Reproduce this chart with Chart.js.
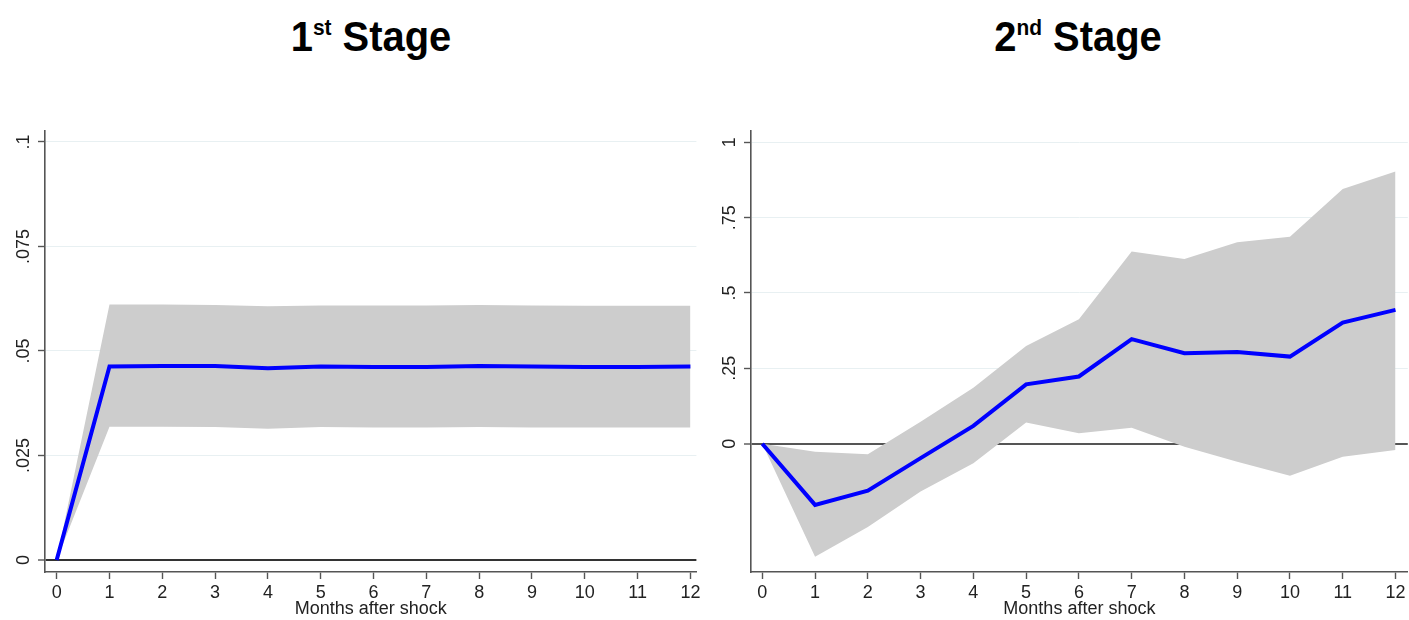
<!DOCTYPE html>
<html>
<head>
<meta charset="utf-8">
<script src="https://cdn.jsdelivr.net/npm/chart.js@4/dist/chart.umd.min.js"></script>
<style>
  html, body { margin: 0; padding: 0; background: #fff; }
  body { width: 1409px; height: 620px; position: relative; overflow: hidden;
         font-family: "Liberation Sans", Arial, sans-serif; }
  .stage-title { position: absolute; top: 16px; width: 400px; text-align: center;
                 font-weight: bold; font-size: 42px; line-height: 41px; color: #000;
                 transform: scaleX(0.95); transform-origin: center; white-space: nowrap; }
  .stage-title .ord { font-size: 22px; position: relative; top: -16px; }
  canvas { position: absolute; top: 0; }
</style>
</head>
<body>
<div class="stage-title" style="left:171px">1<span class="ord">st</span> Stage</div>
<div class="stage-title" style="left:878px">2<span class="ord">nd</span> Stage</div>
<canvas id="stage1" width="704" height="620" style="left:0"></canvas>
<canvas id="stage2" width="704" height="620" style="left:705px"></canvas>

<script>
// Horizon in months after the shock
const months = [0, 1, 2, 3, 4, 5, 6, 7, 8, 9, 10, 11, 12];
const xAxisTitle = 'Months after shock';

// First stage: impulse response with confidence band
const stage1Irf   = [0, 0.0463, 0.0464, 0.0464, 0.0459, 0.0463, 0.0462, 0.0462, 0.0464, 0.0463, 0.0462, 0.0462, 0.0463];
const stage1Upper = [0, 0.0611, 0.0611, 0.0610, 0.0607, 0.0609, 0.0609, 0.0609, 0.0610, 0.0609, 0.0608, 0.0608, 0.0608];
const stage1Lower = [0, 0.0319, 0.0319, 0.0318, 0.0314, 0.0318, 0.0317, 0.0317, 0.0318, 0.0317, 0.0317, 0.0317, 0.0317];
const stage1YTicks  = [0, 0.025, 0.05, 0.075, 0.1];
const stage1YLabels = ['0', '.025', '.05', '.075', '.1'];

// Second stage: impulse response with confidence band
const stage2Irf   = [0, -0.203, -0.156, -0.048, 0.059, 0.197, 0.223, 0.347, 0.300, 0.304, 0.289, 0.402, 0.444];
const stage2Upper = [0, -0.027, -0.035, 0.073, 0.186, 0.324, 0.413, 0.638, 0.613, 0.668, 0.687, 0.845, 0.903];
const stage2Lower = [0, -0.375, -0.276, -0.159, -0.065, 0.070, 0.035, 0.053, -0.010, -0.060, -0.106, -0.043, -0.021];
const stage2YTicks  = [0, 0.25, 0.5, 0.75, 1];
const stage2YLabels = ['0', '.25', '.5', '.75', '1'];

const FONT = '"Liberation Sans", Arial, sans-serif';

// Vertical (rotated) value labels beside the y axis
const rotatedYLabels = {
  id: 'rotatedYLabels',
  afterDraw(chart, args, opts) {
    const s = chart.scales.y;
    const ctx = chart.ctx;
    ctx.save();
    ctx.font = '18px ' + FONT;
    ctx.fillStyle = '#222';
    ctx.textAlign = 'center';
    ctx.textBaseline = 'middle';
    opts.values.forEach((v, i) => {
      const y = s.getPixelForValue(v);
      ctx.save();
      ctx.translate(s.right - 21, y);
      ctx.rotate(-Math.PI / 2);
      ctx.fillText(opts.labels[i], 0, 0);
      ctx.restore();
    });
    ctx.restore();
  }
};

function points(values) {
  return months.map((m, i) => ({ x: m, y: values[i] }));
}

function drawPanel(id, irf, upper, lower, yTicks, yLabels, yMin, yMax, xMin, xMax, axisWidth, padRight, zeroColor) {
  return new Chart(document.getElementById(id), {
    type: 'line',
    data: {
      datasets: [
        { label: 'IRF', data: points(irf), borderColor: '#0000ff', borderWidth: 4,
          pointRadius: 0, fill: false, tension: 0, order: 0, borderJoinStyle: 'miter' },
        { label: 'Upper', data: points(upper), borderWidth: 0, borderColor: 'rgba(0,0,0,0)',
          backgroundColor: '#cdcdcd', pointRadius: 0, fill: '+1', tension: 0, order: 1 },
        { label: 'Lower', data: points(lower), borderWidth: 0, borderColor: 'rgba(0,0,0,0)',
          pointRadius: 0, fill: false, tension: 0, order: 1 }
      ]
    },
    options: {
      responsive: false,
      animation: false,
      devicePixelRatio: 1,
      layout: { padding: { top: 131, right: padRight, bottom: 0, left: 0 } },
      plugins: {
        legend: { display: false },
        tooltip: { enabled: false },
        rotatedYLabels: { values: yTicks, labels: yLabels }
      },
      scales: {
        x: {
          type: 'linear', min: xMin, max: xMax,
          afterBuildTicks: s => { s.ticks = months.map(v => ({ value: v })); },
          afterFit: s => { s.height = 48; },
          border: { color: '#555', width: 1.6 },
          grid: { drawOnChartArea: false, drawTicks: true, tickLength: 7, tickColor: '#555', tickWidth: 1.4 },
          ticks: { autoSkip: false, maxRotation: 0, padding: 3.5, color: '#222',
                   font: { family: FONT, size: 18 }, callback: v => String(v) },
          title: { display: true, text: xAxisTitle, color: '#222', padding: 0,
                   font: { family: FONT, size: 18, lineHeight: 1.2 } }
        },
        y: {
          type: 'linear', min: yMin, max: yMax,
          afterBuildTicks: s => { s.ticks = yTicks.map(v => ({ value: v })); },
          afterFit: s => { s.width = axisWidth; },
          border: { color: '#555', width: 1.6 },
          grid: {
            drawTicks: true, tickLength: 7, tickColor: '#555', tickWidth: 1.4,
            color: c => (c.tick && c.tick.value === 0) ? zeroColor : '#e8f0f2',
            lineWidth: c => (c.tick && c.tick.value === 0) ? 2 : 1
          },
          ticks: { display: false }
        }
      }
    },
    plugins: [rotatedYLabels]
  });
}

drawPanel('stage1', stage1Irf, stage1Upper, stage1Lower, stage1YTicks, stage1YLabels,
          -0.00287, 0.10263, -0.221, 12.113, 45, 7, '#333');
drawPanel('stage2', stage2Irf, stage2Upper, stage2Lower, stage2YTicks, stage2YLabels,
          -0.4257, 1.0375, -0.214, 12.233, 46, 0, '#555');
</script>
</body>
</html>
